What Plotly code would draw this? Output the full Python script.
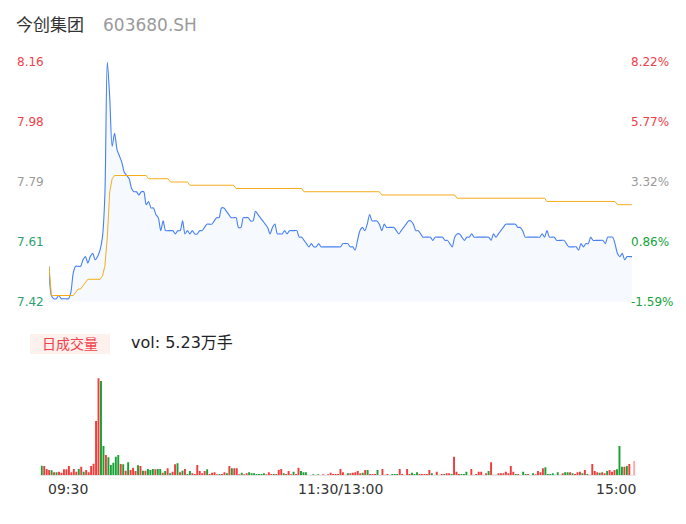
import plotly.graph_objects as go

# ---------------- data ----------------
title_name = "今创集团"
title_code = "603680.SH"
total_vol_text = "vol: 5.23万手"

price = [
    7.53, 7.44, 7.43, 7.43, 7.44, 7.43, 7.43, 7.43, 7.43, 7.45,
    7.51, 7.53, 7.53, 7.53, 7.55, 7.56, 7.54, 7.56, 7.57, 7.55,
    7.56, 7.58, 7.62, 7.75, 8.16, 8.05, 7.90, 7.94, 7.89, 7.87,
    7.85, 7.82, 7.81, 7.80, 7.77, 7.76, 7.76, 7.75, 7.76, 7.76,
    7.72, 7.73, 7.71, 7.71, 7.69, 7.68, 7.64, 7.67, 7.64, 7.64,
    7.64, 7.64, 7.63, 7.64, 7.64, 7.67, 7.63, 7.64, 7.63, 7.64,
    7.63, 7.63, 7.64, 7.64, 7.65, 7.66, 7.66, 7.66, 7.67, 7.68,
    7.68, 7.71, 7.71, 7.70, 7.69, 7.68, 7.68, 7.68, 7.65, 7.65,
    7.68, 7.68, 7.68, 7.67, 7.67, 7.70, 7.69, 7.68, 7.67, 7.66,
    7.65, 7.63, 7.65, 7.66, 7.63, 7.63, 7.63, 7.64, 7.63, 7.64,
    7.64, 7.64, 7.64, 7.62, 7.62, 7.61, 7.60, 7.59, 7.60, 7.59,
    7.59, 7.60, 7.59, 7.59, 7.59, 7.59, 7.59, 7.59, 7.59, 7.59,
    7.59, 7.60, 7.60, 7.60, 7.59, 7.59, 7.58, 7.61, 7.64, 7.65,
    7.64, 7.66, 7.69, 7.67, 7.67, 7.67, 7.66, 7.64, 7.66, 7.65,
    7.65, 7.65, 7.65, 7.64, 7.63, 7.64, 7.65, 7.66, 7.67, 7.67,
    7.66, 7.64, 7.64, 7.63, 7.62, 7.62, 7.62, 7.62, 7.61, 7.62,
    7.62, 7.62, 7.62, 7.61, 7.61, 7.60, 7.59, 7.62, 7.63, 7.63,
    7.62, 7.61, 7.62, 7.62, 7.63, 7.62, 7.62, 7.62, 7.62, 7.62,
    7.62, 7.62, 7.61, 7.63, 7.62, 7.63, 7.64, 7.65, 7.66, 7.66,
    7.66, 7.66, 7.66, 7.65, 7.65, 7.64, 7.62, 7.62, 7.62, 7.62,
    7.62, 7.62, 7.62, 7.63, 7.62, 7.64, 7.62, 7.62, 7.62, 7.61,
    7.61, 7.61, 7.61, 7.60, 7.59, 7.59, 7.59, 7.59, 7.58, 7.60,
    7.59, 7.60, 7.60, 7.62, 7.61, 7.61, 7.61, 7.61, 7.61, 7.60,
    7.62, 7.62, 7.62, 7.60, 7.57, 7.56, 7.57, 7.55, 7.56, 7.56,
    7.56,
]

avg_price = [
    7.53, 7.44, 7.44, 7.44, 7.44, 7.44, 7.44, 7.44, 7.44, 7.44,
    7.44, 7.45, 7.46, 7.46, 7.47, 7.48, 7.49, 7.49, 7.49, 7.49,
    7.49, 7.49, 7.50, 7.53, 7.62, 7.76, 7.80, 7.81, 7.81, 7.81,
    7.81, 7.81, 7.81, 7.81, 7.81, 7.81, 7.81, 7.81, 7.81, 7.81,
    7.81, 7.80, 7.80, 7.80, 7.80, 7.80, 7.80, 7.80, 7.80, 7.80,
    7.79, 7.79, 7.79, 7.79, 7.79, 7.79, 7.79, 7.79, 7.78, 7.78,
    7.78, 7.78, 7.78, 7.78, 7.78, 7.78, 7.78, 7.78, 7.78, 7.78,
    7.78, 7.78, 7.78, 7.78, 7.78, 7.78, 7.78, 7.77, 7.77, 7.77,
    7.77, 7.77, 7.77, 7.77, 7.77, 7.77, 7.77, 7.77, 7.77, 7.77,
    7.77, 7.77, 7.77, 7.77, 7.77, 7.77, 7.77, 7.77, 7.77, 7.77,
    7.77, 7.77, 7.77, 7.77, 7.77, 7.76, 7.76, 7.76, 7.76, 7.76,
    7.76, 7.76, 7.76, 7.76, 7.76, 7.76, 7.76, 7.76, 7.76, 7.76,
    7.76, 7.76, 7.76, 7.76, 7.76, 7.76, 7.76, 7.76, 7.76, 7.76,
    7.76, 7.76, 7.76, 7.76, 7.76, 7.76, 7.76, 7.75, 7.75, 7.75,
    7.75, 7.75, 7.75, 7.75, 7.75, 7.75, 7.75, 7.75, 7.75, 7.75,
    7.75, 7.75, 7.75, 7.75, 7.75, 7.75, 7.75, 7.75, 7.75, 7.75,
    7.75, 7.75, 7.75, 7.75, 7.75, 7.75, 7.75, 7.75, 7.74, 7.74,
    7.74, 7.74, 7.74, 7.74, 7.74, 7.74, 7.74, 7.74, 7.74, 7.74,
    7.74, 7.74, 7.74, 7.74, 7.74, 7.74, 7.74, 7.74, 7.74, 7.74,
    7.74, 7.74, 7.74, 7.74, 7.74, 7.74, 7.74, 7.74, 7.74, 7.74,
    7.74, 7.74, 7.74, 7.74, 7.74, 7.73, 7.73, 7.73, 7.73, 7.73,
    7.73, 7.73, 7.73, 7.73, 7.73, 7.73, 7.73, 7.73, 7.73, 7.73,
    7.73, 7.73, 7.73, 7.73, 7.73, 7.73, 7.73, 7.73, 7.73, 7.73,
    7.73, 7.73, 7.73, 7.73, 7.72, 7.72, 7.72, 7.72, 7.72, 7.72,
    7.72,
]

volume = [
    28, 27, 18, 15, 14, 8, 8, 10, 7, 17,
    17, 27, 8, 18, 10, 18, 25, 10, 15, 8,
    27, 34, 162, 290, 282, 87, 60, 53, 30, 37,
    55, 60, 33, 32, 13, 38, 15, 22, 12, 29,
    27, 13, 13, 18, 15, 18, 17, 18, 18, 7,
    12, 20, 5, 10, 32, 35, 8, 13, 18, 3,
    12, 5, 3, 30, 12, 5, 12, 17, 3, 7,
    8, 2, 3, 3, 8, 5, 27, 20, 20, 20,
    2, 7, 2, 5, 8, 5, 5, 3,
    3, 3, 5, 2, 8, 3, 3, 3, 15, 18,
    5, 3, 12, 2, 10, 3, 22, 12, 8, 8,
    1, 1, 2, 1, 2, 1, 2, 1, 2, 7,
    3, 3, 3, 18, 8, 2, 5, 5, 7, 8,
    12, 5, 7, 15, 15, 3, 3, 3, 15, 1,
    18, 2, 3, 2, 3, 3, 3, 18, 3, 1,
    18, 3, 7, 3, 8, 3, 3, 3, 3, 15,
    5, 1, 10, 2, 3, 3, 5, 5, 3, 55,
    10, 3, 3, 3, 10, 1, 18, 1, 3, 10,
    10, 1, 5, 12, 38, 2, 2, 5, 5, 5,
    10, 5, 27, 10, 3, 3, 1, 10, 3, 3,
    1, 5, 2, 12, 8, 20, 23, 3, 3, 5,
    2, 8, 2, 5, 8, 8, 8, 5, 3, 8,
    10, 5, 15, 3, 2, 33, 12, 8, 7, 8,
    5, 12, 15, 10, 15, 17, 87, 25, 25, 27,
    33, 1, 42,
]

# 1 = up (red), -1 = down (green), 0 = unchanged
direction = [
    -1, 1, 1, 1, -1, 1, -1, 1, 1, 1,
    1, 1, 1, 1, 1, -1, 1, -1, 1, 1,
    1, 1, 1, 1, -1, -1, 1, -1, -1, -1,
    -1, -1, 1, -1, 1, -1, 1, 1, 1, -1,
    1, -1, 1, -1, -1, -1, 1, -1, -1, 1,
    -1, 1, -1, 1, 1, -1, 1, -1, 1, -1,
    -1, 1, 1, 1, 1, 1, 1, -1, 1, 1,
    1, 1, -1, 1, 1, -1, 1, -1, 1, 1,
    1, -1, 1, 1, -1, -1, -1, -1,
    -1, -1, -1, 1, 1, 1, -1, 1, 1, 1,
    -1, 1, 1, 1, -1, 1, 1, -1, -1, -1,
    0, 0, -1, 0, -1, 0, 1, 0, 1, 1,
    1, 1, 1, 1, 1, 0, -1, 1, 1, 1,
    1, 1, -1, 1, -1, 1, 1, 1, -1, 0,
    1, 0, 1, 0, -1, -1, -1, 1, 1, 0,
    1, 1, -1, -1, -1, 1, 1, 1, 1, 1,
    -1, 0, 1, 0, 1, -1, 1, 1, -1, 1,
    1, 1, -1, -1, -1, 0, 1, 0, 1, 1,
    1, 0, 1, -1, 1, 0, 0, 1, 1, 1,
    1, 1, 1, 1, -1, 1, 0, -1, -1, 1,
    0, -1, 1, 1, 1, 1, -1, -1, -1, -1,
    0, -1, 0, 1, -1, -1, 1, -1, 1, 1,
    1, -1, 1, -1, 0, 1, 1, 1, -1, 1,
    1, -1, 1, 1, 1, -1, -1, -1, 1, -1,
    1, 0, 1,
]

price_range = [7.42, 8.16]
price_tick_labels = ["8.16", "7.98", "7.79", "7.61", "7.42"]
pct_tick_labels = ["8.22%", "5.77%", "3.32%", "0.86%", "-1.59%"]
tick_tone = ["up", "up", "flat", "down", "down"]
time_labels = ["09:30", "11:30/13:00", "15:00"]

# ---------------- styling ----------------
W, H = 686, 524
RED = "#f0404a"
GREEN = "#16a33a"
GRAY = "#9a9a9a"
FONT = "DejaVu Sans, Noto Sans CJK SC, sans-serif"

PRICE_TOP, PRICE_BOTTOM = 62, 302


def px_x(p):
    return p / W


def px_y(p):
    return 1 - p / H


tone_left = {"up": RED, "flat": GRAY, "down": "#2f9e72"}
tone_right = {"up": RED, "flat": GRAY, "down": GREEN}
bar_color_map = {1: "#f23c3c", -1: "#18a233", 0: "#d6d6d6"}

n = len(price)
minutes = list(range(n))
vmin, vmax = price_range

fig = go.Figure()

fig.add_trace(go.Scatter(
    x=minutes, y=price, mode="lines",
    line=dict(color="#4680f3", width=1.1, shape="spline", smoothing=0.8),
    fill="tozeroy", fillcolor="rgba(236,242,253,0.45)",
    xaxis="x", yaxis="y", hoverinfo="skip",
))
fig.add_trace(go.Scatter(
    x=minutes, y=avg_price, mode="lines",
    line=dict(color="#f5ad1c", width=1),
    xaxis="x", yaxis="y", hoverinfo="skip",
))

bar_x = list(range(len(volume)))
bar_colors = [bar_color_map[d] for d in direction]
bar_opacity = [1.0] * len(volume)
bar_opacity[-1] = 0.45  # closing auction bar drawn translucent
fig.add_trace(go.Bar(
    x=bar_x, y=volume, marker=dict(color=bar_colors, opacity=bar_opacity, line=dict(width=0)),
    xaxis="x2", yaxis="y2", hoverinfo="skip",
))

vol_top_px = 370
vol_bottom_px = 475
max_bar_px = 378.3

fig.update_layout(
    width=W, height=H,
    margin=dict(l=0, r=0, t=0, b=0),
    paper_bgcolor="white", plot_bgcolor="white",
    showlegend=False,
    bargap=0.22,
    font=dict(family=FONT),
    xaxis=dict(domain=[px_x(49), px_x(632)], range=[0, n - 1], visible=False, fixedrange=True),
    yaxis=dict(domain=[px_y(PRICE_BOTTOM), px_y(PRICE_TOP)], range=[vmin, vmax], visible=False,
               fixedrange=True),
    xaxis2=dict(domain=[px_x(40.5), px_x(635.5)], range=[-0.5, len(volume) - 0.5],
                visible=False, anchor="y2", fixedrange=True),
    yaxis2=dict(domain=[px_y(vol_bottom_px), px_y(vol_top_px)],
                range=[0, max(volume) * (vol_bottom_px - vol_top_px) / (vol_bottom_px - max_bar_px)],
                visible=False, anchor="x2", fixedrange=True),
)

ann = []
nt = len(price_tick_labels)
for k, (lab, pl, tone) in enumerate(zip(price_tick_labels, pct_tick_labels, tick_tone)):
    ypx = PRICE_TOP + k * (PRICE_BOTTOM - PRICE_TOP) / (nt - 1)
    ann.append(dict(x=px_x(46), xref="paper", y=px_y(ypx), yref="paper", text=lab, showarrow=False,
                    xanchor="right", yanchor="middle",
                    font=dict(size=12, color=tone_left[tone])))
    ann.append(dict(x=px_x(629), xref="paper", y=px_y(ypx), yref="paper", text=pl, showarrow=False,
                    xanchor="left", yanchor="middle",
                    font=dict(size=12, color=tone_right[tone])))

# title
ann.append(dict(x=px_x(14), y=px_y(25.5), xref="paper", yref="paper", text=title_name,
                showarrow=False, xanchor="left", yanchor="middle",
                font=dict(size=17, color="#333333")))
ann.append(dict(x=px_x(101), y=px_y(25.5), xref="paper", yref="paper", text=title_code,
                showarrow=False, xanchor="left", yanchor="middle",
                font=dict(size=17, color="#9a9a9a")))

# volume header
ann.append(dict(x=px_x(70), y=px_y(344), xref="paper", yref="paper", text="日成交量",
                showarrow=False, xanchor="center", yanchor="middle",
                font=dict(size=14, color=RED)))
ann.append(dict(x=px_x(129), y=px_y(342.5), xref="paper", yref="paper", text=total_vol_text,
                showarrow=False, xanchor="left", yanchor="middle",
                font=dict(size=16, color="#222222")))

# time labels
ann.append(dict(x=px_x(46), y=px_y(489), xref="paper", yref="paper", text=time_labels[0],
                showarrow=False, xanchor="left", yanchor="middle",
                font=dict(size=14, color="#333333")))
ann.append(dict(x=px_x(340.5), y=px_y(489), xref="paper", yref="paper", text=time_labels[1],
                showarrow=False, xanchor="center", yanchor="middle",
                font=dict(size=14, color="#333333")))
ann.append(dict(x=px_x(638), y=px_y(489), xref="paper", yref="paper", text=time_labels[2],
                showarrow=False, xanchor="right", yanchor="middle",
                font=dict(size=14, color="#333333")))

fig.update_layout(annotations=ann)

fig.add_shape(type="rect", xref="paper", yref="paper",
              x0=px_x(30), x1=px_x(110), y0=px_y(354), y1=px_y(334),
              fillcolor="#fdf0ed", line=dict(width=0), layer="below")
fig.add_shape(type="line", xref="paper", yref="paper",
              x0=px_x(40), x1=px_x(636), y0=px_y(475.5), y1=px_y(475.5),
              line=dict(color="#e4e4e4", width=1), layer="below")

fig.write_html(
    "out.html",
    config={"displayModeBar": False, "staticPlot": True},
    post_script="document.body.style.margin='0';document.body.style.overflow='hidden';",
)
